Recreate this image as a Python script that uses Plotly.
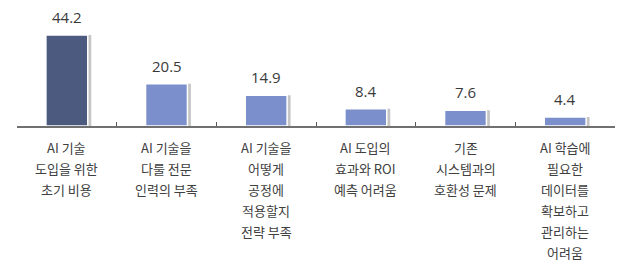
import plotly.graph_objects as go

categories = [
    "AI 기술<br>도입을 위한<br>초기 비용",
    "AI 기술을<br>다룰 전문<br>인력의 부족",
    "AI 기술을<br>어떻게<br>공정에<br>적용할지<br>전략 부족",
    "AI 도입의<br>효과와 ROI<br>예측 어려움",
    "기존<br>시스템과의<br>호환성 문제",
    "AI 학습에<br>필요한<br>데이터를<br>확보하고<br>관리하는<br>어려움",
]
values = [44.2, 20.5, 14.9, 8.4, 7.6, 4.4]
bar_colors = ["#4b5a7e", "#7a8fcb", "#7a8fcb", "#7a8fcb", "#7a8fcb", "#7a8fcb"]

FONT = "Noto Sans CJK KR"
NUM_FONT = "Open Sans"
idx = list(range(len(values)))

fig = go.Figure()
# shadow
fig.add_trace(go.Bar(
    x=idx, y=values, width=0.42, offset=-0.21 + 0.035,
    marker=dict(color="rgba(140,140,140,0.5)", line=dict(width=0)),
    hoverinfo="skip", showlegend=False,
))
# main bars
fig.add_trace(go.Bar(
    x=idx, y=values, width=0.42, offset=-0.21,
    marker=dict(color=bar_colors, line=dict(color="white", width=1.5)),
    showlegend=False,
))

annotations = []
for i, v in enumerate(values):
    annotations.append(dict(
        x=i, y=v, xref="x", yref="y", text=f"{v}", showarrow=False,
        yanchor="bottom", yshift=6,
        font=dict(family=NUM_FONT, size=15, color="#3a3a3a", weight=400),
    ))
    for j, line in enumerate(categories[i].split("<br>")):
        annotations.append(dict(
            x=i, y=0, xref="x", yref="y", text=line, showarrow=False,
            yanchor="middle", yshift=-(21 + 21 * j),
            font=dict(family=FONT, size=13, color="#404040"),
        ))

fig.update_layout(
    width=633, height=273,
    margin=dict(l=17, r=18, t=5, b=147),
    paper_bgcolor="white", plot_bgcolor="white",
    barmode="overlay",
    annotations=annotations,
    xaxis=dict(
        range=[-0.5, 5.5], tickmode="array",
        tickvals=[k - 0.5 for k in range(len(values) + 1)],
        showticklabels=False, ticks="inside", ticklen=4, tickwidth=1,
        tickcolor="#555555", showline=True, linecolor="#707070", linewidth=2,
        showgrid=False, zeroline=False,
    ),
    yaxis=dict(range=[0, 58.7], visible=False, showgrid=False, zeroline=False),
)

fig.write_html("out.html")
